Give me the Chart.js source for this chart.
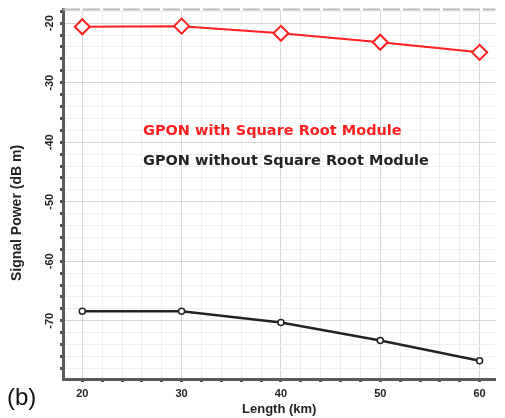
<!DOCTYPE html>
<html>
<head>
<meta charset="utf-8">
<script src="https://cdn.jsdelivr.net/npm/chart.js@4/dist/chart.umd.min.js"></script>
<style>
  html, body { margin: 0; padding: 0; background: #fff; }
  #wrap { width: 505px; height: 418px; }
</style>
</head>
<body>
<div id="wrap"><canvas id="grafica"></canvas></div>
<script>
// datos
const longitudes = [20, 30, 40, 50, 60];
const conModulo = [-20.6, -20.5, -21.7, -23.2, -24.9];
const sinModulo = [-68.4, -68.4, -70.3, -73.3, -76.7];
const etiquetaCon = 'GPON with Square Root Module';
const etiquetaSin = 'GPON without Square Root Module';
const ticksY = [-20, -30, -40, -50, -60, -70];

const rojo = '#ff1f1f';
const negro = '#232323';

function multiplo(v, m) {
    return Math.abs(v / m - Math.round(v / m)) < 1e-6;
}

function soloPares(scale) {
    scale.ticks = scale.ticks.filter(t => multiplo(t.value, 2));
}

function colorGrid(ctx) {
    const v = ctx.tick ? ctx.tick.value : 0;
    return multiplo(v, 10) ? '#d6d6d6' : '#efefef';
}

// textos extra, etiquetas Y giradas y borde superior
const extras = {
    id: 'extras',
    afterDraw(chart) {
        const c = chart.ctx;
        const area = chart.chartArea;
        const y = chart.scales.y;

        c.save();
        // borde superior discontinuo
        c.strokeStyle = '#b9b9b9';
        c.lineWidth = 2;
        c.setLineDash([17, 3]);
        c.beginPath();
        c.moveTo(area.left, area.top);
        c.lineTo(area.right, area.top);
        c.stroke();
        c.setLineDash([]);

        // etiquetas del eje Y
        c.fillStyle = negro;
        c.font = 'bold 11px "Liberation Sans", Arial, sans-serif';
        c.textAlign = 'center';
        c.textBaseline = 'middle';
        ticksY.forEach(v => {
            const py = y.getPixelForValue(v);
            c.save();
            c.translate(50, py);
            c.rotate(-Math.PI / 2);
            c.fillText(String(v), 0, 0);
            c.restore();
        });

        // titulo eje Y
        c.save();
        c.font = 'bold 14px "Liberation Sans", Arial, sans-serif';
        c.translate(17, 213);
        c.rotate(-Math.PI / 2);
        c.fillText('Signal Power (dB m)', 0, 0);
        c.restore();

        // leyenda como texto
        c.textAlign = 'left';
        c.font = 'bold 14.5px "DejaVu Sans", Verdana, sans-serif';
        c.fillStyle = rojo;
        c.fillText(etiquetaCon, 143, 131);
        c.fillStyle = negro;
        c.fillText(etiquetaSin, 143, 161);

        // (b)
        c.fillStyle = '#111';
        c.font = '24px "Liberation Sans", Arial, sans-serif';
        c.fillText('(b)', 7, 398);
        c.restore();
    }
};

const ctx = document.getElementById('grafica').getContext('2d');

const grafica = new Chart(ctx, {
    type: 'line',
    data: {
        labels: longitudes,
        datasets: [{
            label: etiquetaCon,
            data: longitudes.map((x, i) => ({ x: x, y: conModulo[i] })),
            borderColor: rojo,
            borderWidth: 2,
            pointStyle: 'rectRot',
            pointRadius: 7.5,
            pointBorderWidth: 2,
            pointBackgroundColor: '#fff',
            pointBorderColor: rojo
        }, {
            label: etiquetaSin,
            data: longitudes.map((x, i) => ({ x: x, y: sinModulo[i] })),
            borderColor: negro,
            borderWidth: 2.5,
            pointStyle: 'circle',
            pointRadius: 3,
            pointBorderWidth: 1.5,
            pointBackgroundColor: '#fff',
            pointBorderColor: negro
        }]
    },
    options: {
        responsive: true,
        maintainAspectRatio: false,
        animation: false,
        layout: { padding: { top: 9, right: 0, left: 0, bottom: 0 } },
        plugins: {
            legend: { display: false },
            tooltip: { enabled: false }
        },
        scales: {
            x: {
                type: 'linear',
                min: 18.06,
                max: 61.6,
                afterBuildTicks: soloPares,
                afterFit: s => { s.height = 39; },
                ticks: {
                    stepSize: 2,
                    includeBounds: false,
                    autoSkip: false,
                    maxRotation: 0,
                    padding: 5,
                    color: negro,
                    font: { family: '"Liberation Sans", Arial, sans-serif', size: 11, weight: 'bold' },
                    callback: v => (multiplo(v, 10) ? String(Math.round(v)) : '')
                },
                grid: {
                    color: colorGrid,
                    lineWidth: 1,
                    tickLength: 3,
                    tickWidth: 3,
                    tickColor: '#505050'
                },
                border: { color: '#5a5a5a', width: 3 },
                title: {
                    display: true,
                    text: 'Length (km)',
                    color: negro,
                    font: { family: '"Liberation Sans", Arial, sans-serif', size: 13, weight: 'bold' },
                    padding: { top: 0, bottom: 1 }
                }
            },
            y: {
                min: -79.78,
                max: -17.7,
                afterBuildTicks: soloPares,
                afterFit: s => { s.width = 63; },
                ticks: {
                    stepSize: 2,
                    includeBounds: false,
                    autoSkip: false,
                    display: false
                },
                grid: {
                    color: colorGrid,
                    lineWidth: 1,
                    tickLength: 3,
                    tickWidth: 3,
                    tickColor: '#505050'
                },
                border: { color: '#5a5a5a', width: 3 }
            }
        }
    },
    plugins: [extras]
});
</script>
</body>
</html>
